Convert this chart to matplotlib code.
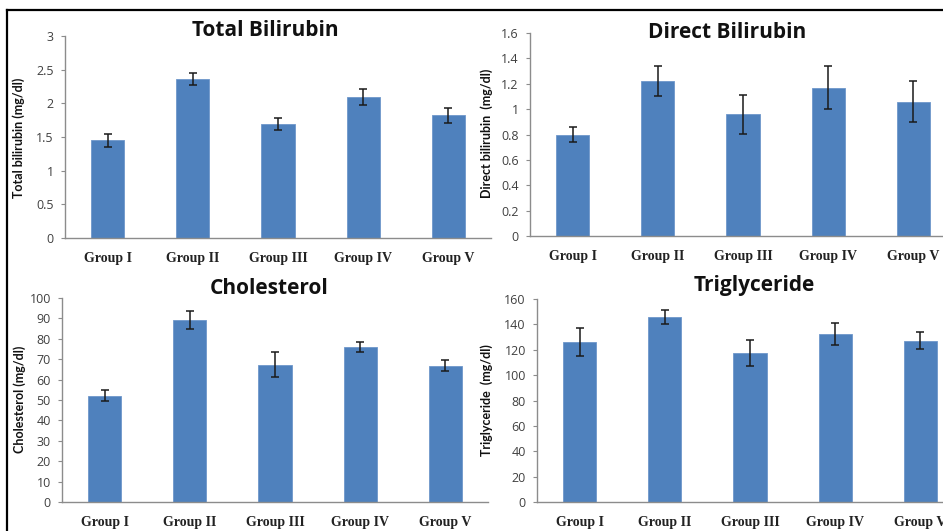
import matplotlib
matplotlib.use("Agg")
import matplotlib.pyplot as plt
from matplotlib.lines import Line2D
import numpy as np

groups = ["Group I", "Group II", "Group III", "Group IV", "Group V"]

total_bili = [1.45, 2.36, 1.69, 2.09, 1.82]
total_bili_err = [0.10, 0.09, 0.09, 0.12, 0.11]

direct_bili = [0.80, 1.22, 0.96, 1.17, 1.06]
direct_bili_err = [0.06, 0.12, 0.155, 0.17, 0.16]

cholesterol = [52.0, 89.0, 67.4, 76.0, 66.9]
cholesterol_err = [2.7, 4.4, 6.0, 2.5, 2.6]

triglyceride = [126.4, 145.9, 117.2, 132.5, 127.2]
triglyceride_err = [11.0, 5.3, 10.3, 8.9, 6.5]

W, H = 943, 531
BLUE = "#4F81BD"
AXCOL = "#8C8C8C"
TICKCOL = "#404040"


def px_axes(fig, x_axis, y_zero, y_top):
    # axis rectangle in pixel coords (origin top-left); 5 categories, ~85 px each
    width = 5 * 85.2
    return fig.add_axes([x_axis / W, (H - y_zero) / H, width / W, (y_zero - y_top) / H])


def panel(ax, vals, errs, ymax, step, fmt):
    x = np.arange(len(groups))
    ax.bar(x, vals, 0.39, color=BLUE, edgecolor="#6E97CB", linewidth=0.6, zorder=2)
    ax.errorbar(x, vals, yerr=errs, fmt="none", ecolor="#1a1a1a", elinewidth=1.1,
                capsize=3, capthick=1.1, zorder=3)
    ax.set_xlim(-0.5, 4.5)
    ax.set_ylim(0, ymax)
    ticks = np.arange(0, ymax + step / 2, step)
    ax.set_yticks(ticks)
    ax.set_yticklabels([fmt(t) for t in ticks], fontsize=9, color=TICKCOL, family="Open Sans")
    ax.set_xticks(x)
    ax.set_xticklabels(groups, fontsize=10, fontweight="bold", family="Liberation Serif", color="#222222")
    ax.tick_params(axis="x", length=0, pad=10)
    ax.tick_params(axis="y", length=3, width=0.8, color=AXCOL, pad=5)
    for s in ("top", "right"):
        ax.spines[s].set_visible(False)
    for s in ("left", "bottom"):
        ax.spines[s].set_color(AXCOL)
        ax.spines[s].set_linewidth(1.0)
    ax.patch.set_alpha(0)


def num(t):
    return f"{t:g}"


fig = plt.figure(figsize=(W / 100, H / 100), dpi=100)
fig.patch.set_facecolor("white")

ax1 = px_axes(fig, 65, 238, 36)
panel(ax1, total_bili, total_bili_err, 3, 0.5, num)
ax2 = px_axes(fig, 530, 236, 33)
panel(ax2, direct_bili, direct_bili_err, 1.6, 0.2, num)
ax3 = px_axes(fig, 62, 502, 298)
panel(ax3, cholesterol, cholesterol_err, 100, 10, num)
ax4 = px_axes(fig, 537, 502, 299)
panel(ax4, triglyceride, triglyceride_err, 160, 20, num)

title_kw = dict(fontsize=15, fontweight="bold", family="Open Sans", ha="center", va="center", color="#111111")
fig.text(265 / W, 1 - 30 / H, "Total Bilirubin", **title_kw)
fig.text(727 / W, 1 - 32 / H, "Direct Bilirubin", **title_kw)
fig.text(269 / W, 1 - 289 / H, "Cholesterol", **title_kw)
fig.text(754 / W, 1 - 285 / H, "Triglyceride", **title_kw)

ylab_kw = dict(fontsize=9, fontweight="bold", family="Lato", rotation=90, ha="center", va="center",
               color="#111111")
fig.text(19 / W, 1 - 138 / H, "Total bilirubin (mg/dl)", **ylab_kw)
fig.text(487 / W, 1 - 133 / H, "Direct bilirubin  (mg/dl)", **ylab_kw)
fig.text(20 / W, 1 - 399 / H, "Cholesterol (mg/dl)", **ylab_kw)
fig.text(487 / W, 1 - 400 / H, "Triglyceride  (mg/dl)", **ylab_kw)

# black frame on top and left of the image
fig.add_artist(Line2D([7 / W, 1], [1 - 10 / H, 1 - 10 / H], color="black", lw=1.6))
fig.add_artist(Line2D([7 / W, 7 / W], [0, 1 - 10 / H], color="black", lw=1.6))

fig.savefig("out.png", dpi=100)
